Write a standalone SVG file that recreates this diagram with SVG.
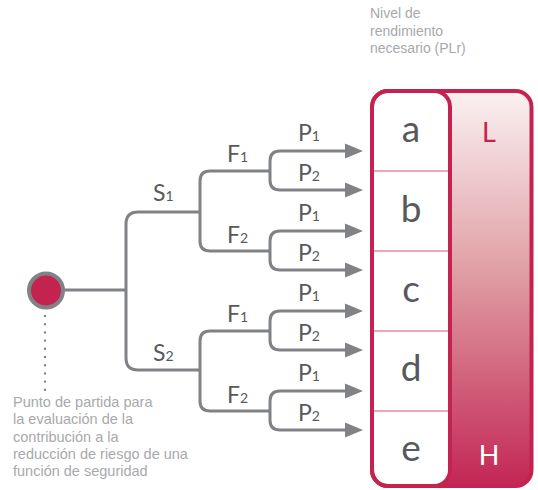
<svg xmlns="http://www.w3.org/2000/svg" width="538" height="490" viewBox="0 0 538 490">
<defs>
<linearGradient id="plg" x1="0" y1="0" x2="0" y2="1">
<stop offset="0" stop-color="#fbf1f2"/>
<stop offset="0.45" stop-color="#e0a0a5"/>
<stop offset="1" stop-color="#c32654"/>
</linearGradient>
<marker id="ah" markerUnits="userSpaceOnUse" markerWidth="20" markerHeight="16" refX="2" refY="8" orient="auto">
<path d="M0,0.5 L18,8 L0,15.5 Z" fill="#808285"/>
</marker>
<style>
.ln{fill:none;stroke:#808285;stroke-width:3}
.ar{fill:none;stroke:#808285;stroke-width:3;marker-end:url(#ah)}
.lb{font-family:Lato,"Liberation Sans",sans-serif;font-size:23px;fill:#58595b}
.sb{font-size:14px}
.lv{font-family:Lato,"Liberation Sans",sans-serif;font-size:37px;fill:#58595b;text-anchor:middle}
.nt{font-family:"Liberation Sans",Arial,sans-serif;font-size:14.5px;fill:#a7a9ac}
.tt{font-family:"Liberation Sans",Arial,sans-serif;font-size:14px;fill:#a7a9ac}
.dv{stroke:#e68aa6;stroke-width:1.5}
</style>
</defs>

<g id="plr-scale">
<rect x="372" y="91" width="159.5" height="395" rx="16" fill="url(#plg)"/>
<rect x="372" y="91" width="78" height="395" rx="16" fill="#ffffff" stroke="#c4234f" stroke-width="4"/>
<rect x="372" y="91" width="159.5" height="395" rx="16" fill="none" stroke="#c4234f" stroke-width="4"/>
<line class="dv" x1="374" y1="171" x2="448" y2="171"/>
<line class="dv" x1="374" y1="251" x2="448" y2="251"/>
<line class="dv" x1="374" y1="331" x2="448" y2="331"/>
<line class="dv" x1="374" y1="411" x2="448" y2="411"/>
<text class="lv" x="411" y="142">a</text>
<text class="lv" x="411" y="222">b</text>
<text class="lv" x="411" y="302">c</text>
<text class="lv" x="411" y="381">d</text>
<text class="lv" x="411" y="461">e</text>
<text x="489" y="142" font-family="Lato,'Liberation Sans',sans-serif" font-size="27" fill="#c4234f" text-anchor="middle">L</text>
<text x="489" y="465" font-family="Lato,'Liberation Sans',sans-serif" font-size="27" fill="#ffffff" text-anchor="middle">H</text>
</g>

<g id="title">
<text class="tt" x="370" y="18">Nivel de</text>
<text class="tt" x="370" y="36">rendimiento</text>
<text class="tt" x="370" y="53">necesario (PLr)</text>
</g>

<g id="connectors">
<path class="ln" d="M64 290 H126"/>
<path class="ln" d="M200 212 H138 Q126 212 126 224 V358 Q126 370 138 370 H200"/>
<path class="ln" d="M270 171 H210 Q200 171 200 181 V241 Q200 251 210 251 H270"/>
<path class="ln" d="M270 331 H210 Q200 331 200 341 V401 Q200 411 210 411 H270"/>
<path class="ar" d="M270 171 V161 Q270 151 280 151 H347"/>
<path class="ar" d="M270 171 V180 Q270 190 280 190 H347"/>
<path class="ar" d="M270 251 V241 Q270 231 280 231 H347"/>
<path class="ar" d="M270 251 V260 Q270 270 280 270 H347"/>
<path class="ar" d="M270 331 V321 Q270 311 280 311 H347"/>
<path class="ar" d="M270 331 V340 Q270 350 280 350 H347"/>
<path class="ar" d="M270 411 V401 Q270 391 280 391 H347"/>
<path class="ar" d="M270 411 V420 Q270 430 280 430 H347"/>
<path d="M45 316 V390" fill="none" stroke="#808285" stroke-width="2.4" stroke-linecap="round" stroke-dasharray="0 8.2"/>
</g>

<g id="start">
<circle cx="46" cy="290.5" r="17" fill="#c4234f" stroke="#808285" stroke-width="4"/>
</g>

<g id="labels">
<text class="lb" x="153" y="201">S<tspan class="sb">1</tspan></text>
<text class="lb" x="153" y="361">S<tspan class="sb">2</tspan></text>
<text class="lb" x="227" y="162">F<tspan class="sb">1</tspan></text>
<text class="lb" x="227" y="243">F<tspan class="sb">2</tspan></text>
<text class="lb" x="227" y="322">F<tspan class="sb">1</tspan></text>
<text class="lb" x="227" y="403">F<tspan class="sb">2</tspan></text>
<text class="lb" x="298" y="141">P<tspan class="sb">1</tspan></text>
<text class="lb" x="298" y="181">P<tspan class="sb">2</tspan></text>
<text class="lb" x="298" y="221">P<tspan class="sb">1</tspan></text>
<text class="lb" x="298" y="261">P<tspan class="sb">2</tspan></text>
<text class="lb" x="298" y="301">P<tspan class="sb">1</tspan></text>
<text class="lb" x="298" y="341">P<tspan class="sb">2</tspan></text>
<text class="lb" x="298" y="381">P<tspan class="sb">1</tspan></text>
<text class="lb" x="298" y="421">P<tspan class="sb">2</tspan></text>
</g>

<g id="note">
<text class="nt" x="13" y="407">Punto de partida para</text>
<text class="nt" x="13" y="424">la evaluación de la</text>
<text class="nt" x="13" y="442">contribución a la</text>
<text class="nt" x="13" y="459">reducción de riesgo de una</text>
<text class="nt" x="13" y="476">función de seguridad</text>
</g>
</svg>
